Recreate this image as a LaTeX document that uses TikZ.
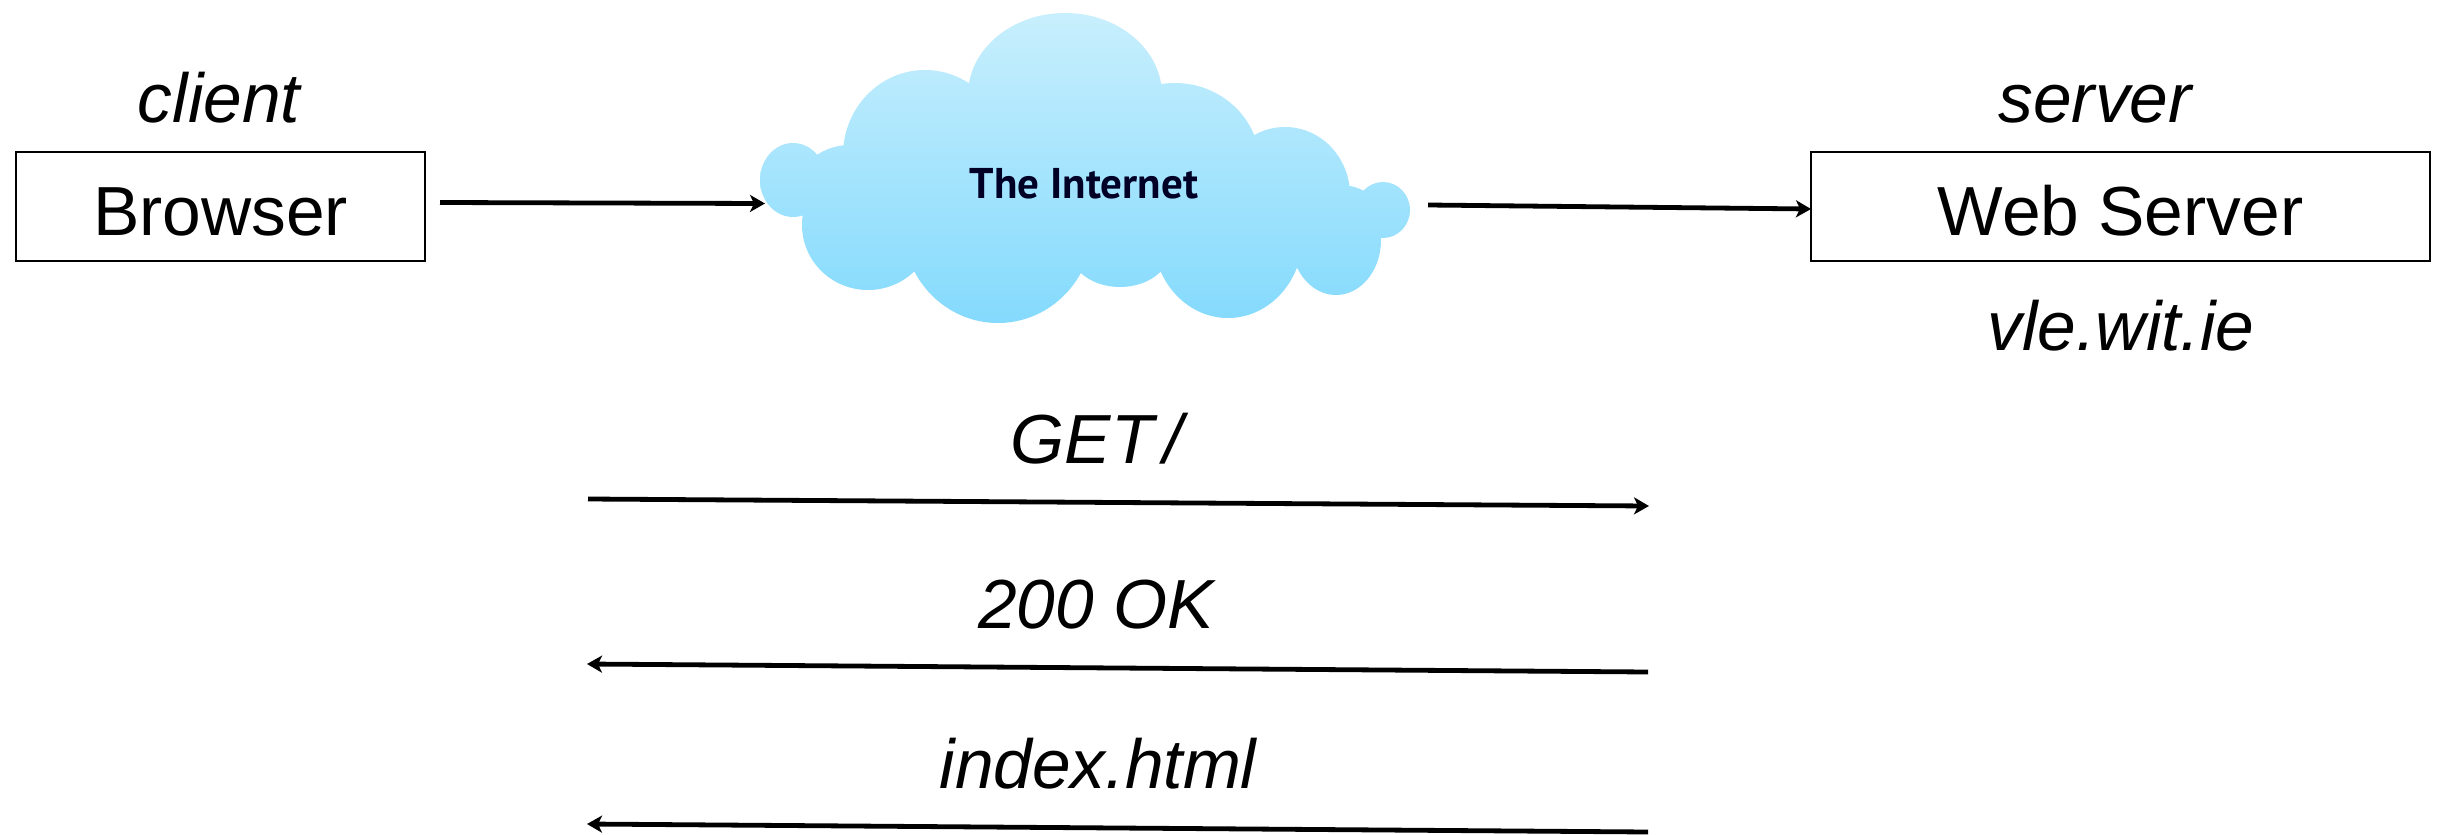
\documentclass[tikz,border=0pt]{standalone}
\usepackage{fontspec}
\setmainfont{Liberation Sans}
\newfontfamily\cloudfont{PT Sans}
\usetikzlibrary{arrows.meta}
\tikzset{
  labeltext/.style={anchor=base,inner sep=0pt,font=\fontsize{69.5}{80}\selectfont\itshape},
  boxnode/.style={draw=black,line width=2.6pt,fill=white,minimum width=409pt,minimum height=109pt,inner sep=0pt,text height=57pt,text depth=0pt,font=\fontsize{69.5}{80}\selectfont},
  linkarrow/.style={draw=black,line width=4.8pt,-{Stealth[length=15pt,width=17pt,inset=4pt]}},
  cloudshade/.style={top color=cloudtop,bottom color=cloudbottom}
}
\definecolor{cloudtop}{HTML}{C8EFFD}
\definecolor{cloudbottom}{HTML}{84DAFD}
\begin{document}
\begin{tikzpicture}[x=1pt,y=-1pt]
\useasboundingbox[fill=white] (0,0) rectangle (2453,835);
% cloud as a union of lobes
\shade[cloudshade]
  (1065,95) ellipse [x radius=97pt,y radius=82pt]
  (925,155) ellipse [x radius=82pt,y radius=85pt]
  (1175,165) ellipse [x radius=85pt,y radius=82pt]
  (1285,195) ellipse [x radius=65pt,y radius=68pt]
  (1085,190) ellipse [x radius=240pt,y radius=70pt]
  (793,180) ellipse [x radius=33pt,y radius=37pt]
  (850,185) ellipse [x radius=50pt,y radius=40pt]
  (1383,210) ellipse [x radius=27pt,y radius=28pt]
  (1340,215) ellipse [x radius=40pt,y radius=30pt]
  (868,225) ellipse [x radius=66pt,y radius=65pt]
  (998,225) ellipse [x radius=95pt,y radius=98pt]
  (1120,250) ellipse [x radius=50pt,y radius=37pt]
  (1228,235) ellipse [x radius=75pt,y radius=83pt]
  (1336,240) ellipse [x radius=45pt,y radius=55pt];
\node[inner sep=0pt,text=black!85!blue] (internet) at (1084,184) {\cloudfont\bfseries\fontsize{43}{48}\selectfont The Internet};

\node[boxnode] (browser) at (220.5,206.5) {Browser};
\node[boxnode,minimum width=619pt] (webserver) at (2120.5,206.5) {Web Server};

\node[labeltext] (client) at (219,122) {client};
\node[labeltext] (server) at (2095,122) {server};
\node[labeltext] (vle) at (2121,350) {vle.wit.ie};
\node[labeltext] (get) at (1097,463) {GET\kern10pt /};
\node[labeltext] (ok) at (1096,628) {200 OK};
\node[labeltext] (index) at (1098,788) {index.html};

\coordinate (a1) at (440,202.5);
\coordinate (a2) at (765,203.5);
\coordinate (b1) at (1428,205);
\coordinate (b2) at (1811,209);
\coordinate (c1) at (588,499);
\coordinate (c2) at (1649,506);
\coordinate (d1) at (1648,672);
\coordinate (d2) at (587,664);
\coordinate (e1) at (1648,832);
\coordinate (e2) at (587,824);
\draw[linkarrow] (a1) -- (a2);
\draw[linkarrow] (b1) -- (b2);
\draw[linkarrow] (c1) -- (c2);
\draw[linkarrow] (d1) -- (d2);
\draw[linkarrow] (e1) -- (e2);
\end{tikzpicture}
\end{document}
